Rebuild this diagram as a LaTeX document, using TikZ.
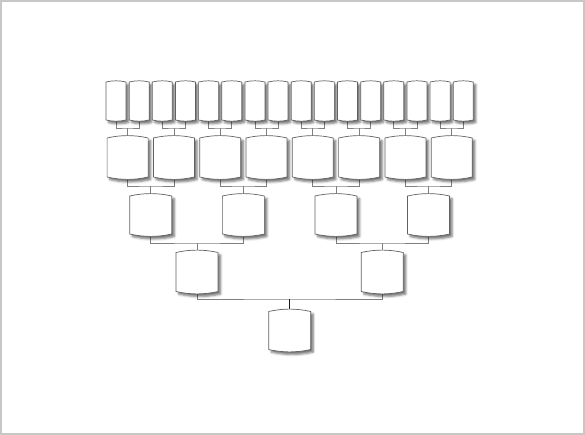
\documentclass[tikz,border=0pt]{standalone}
\usetikzlibrary{calc,shadows.blur}
\tikzset{
  slot/.style={draw=none, inner sep=0pt, outer sep=0pt, minimum width=#1},
  boxline/.style={draw=black!62, line width=0.7pt, fill=white,
    blur shadow={shadow xshift=2.6pt, shadow yshift=-2.6pt, shadow blur radius=2.2pt, shadow opacity=55}},
  conn/.style={draw=black!50, line width=0.7pt},
  connmain/.style={draw=black!90, line width=0.8pt},
  frame/.style={draw=black!22, line width=2pt}
}
\newcommand{\famshape}[2]{%
  \filldraw[boxline] (#1.north west)
    .. controls ($(#1.north west)!0.333!(#1.north east)+(0,-#2)$) and ($(#1.north west)!0.667!(#1.north east)+(0,-#2)$) .. (#1.north east)
    -- (#1.south east)
    .. controls ($(#1.south east)!0.333!(#1.south west)+(0,#2)$) and ($(#1.south east)!0.667!(#1.south west)+(0,#2)$) .. (#1.south west)
    -- cycle;}
\begin{document}
\begin{tikzpicture}[x=1pt,y=-1pt]
\useasboundingbox (0,0) rectangle (585,435);
\draw[frame] (1,1) rectangle (584,434);
% nodes
\foreach \i in {0,...,15}
  \node[slot=20pt, minimum height=38pt] (a\i) at ({116+23.15*\i},101) {};
\foreach \i in {0,...,7}
  \node[slot=41pt, minimum height=39pt] (b\i) at ({127.6+46.3*\i},157.5) {};
\foreach \i in {0,...,3}
  \node[slot=42pt, minimum height=38pt] (c\i) at ({150.75+92.6*\i},215) {};
\foreach \i in {0,1}
  \node[slot=42pt, minimum height=39pt] (d\i) at ({197.05+185.2*\i},272) {};
\node[slot=42pt, minimum height=38pt] (e) at (289.65,330.5) {};
% junctions
\foreach \k in {0,...,7} \coordinate (ja\k) at (b\k.north |- 0,128);
\foreach \k in {0,...,3} \coordinate (jb\k) at (c\k.north |- 0,186);
\foreach \k in {0,1} \coordinate (jc\k) at (d\k.north |- 0,243);
\coordinate (jd) at (e.north |- 0,299);
% connectors
\foreach \k in {0,...,7}{
  \pgfmathtruncatemacro\l{2*\k}\pgfmathtruncatemacro\r{2*\k+1}
  \draw[conn] (a\l.south) |- (ja\k) -| (a\r.south);
  \draw[conn] (ja\k) -- (b\k.north);
}
\foreach \k in {0,...,3}{
  \pgfmathtruncatemacro\l{2*\k}\pgfmathtruncatemacro\r{2*\k+1}
  \draw[conn] (b\l.south) |- (jb\k) -| (b\r.south);
  \draw[conn] (jb\k) -- (c\k.north);
}
\foreach \k in {0,1}{
  \pgfmathtruncatemacro\l{2*\k}\pgfmathtruncatemacro\r{2*\k+1}
  \draw[conn] (c\l.south) |- (jc\k) -| (c\r.south);
  \draw[conn] (jc\k) -- (d\k.north);
}
\draw[conn] (d0.south) |- (jd) -| (d1.south);
\draw[connmain] (jd) -- (e.north);
% boxes
\foreach \i in {0,...,15} \famshape{a\i}{1.6};
\foreach \i in {0,...,7} \famshape{b\i}{3.2};
\foreach \i in {0,...,3} \famshape{c\i}{3.2};
\foreach \i in {0,1} \famshape{d\i}{3.2};
\famshape{e}{3.2};
\end{tikzpicture}
\end{document}
